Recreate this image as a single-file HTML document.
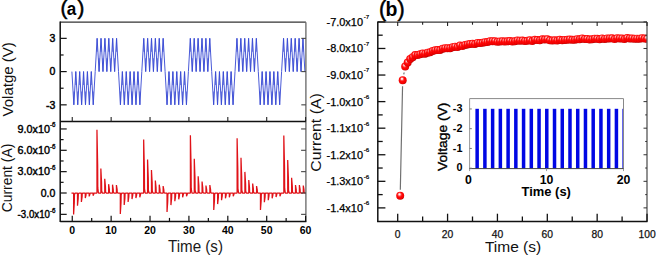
<!DOCTYPE html>
<html><head><meta charset="utf-8"><style>
html,body{margin:0;padding:0;background:#fff;width:656px;height:256px;overflow:hidden}
svg{display:block;font-family:"Liberation Sans",sans-serif}
</style></head><body>
<svg width="656" height="256" viewBox="0 0 656 256" font-family="Liberation Sans, sans-serif"><path d="M71.9,71.6 L73.84,104.84 L75.78,71.6 L77.73,104.84 L79.67,71.6 L81.61,104.84 L83.55,71.6 L85.49,104.84 L87.43,71.6 L89.38,104.84 L91.32,71.6 L93.26,104.84 L95.2,71.6 L97.14,38.36 L99.08,71.6 L101.03,38.36 L102.97,71.6 L104.91,38.36 L106.85,71.6 L108.79,38.36 L110.73,71.6 L112.67,38.36 L114.62,71.6 L116.56,38.36 L118.5,71.6 L120.44,104.84 L122.38,71.6 L124.33,104.84 L126.27,71.6 L128.21,104.84 L130.15,71.6 L132.09,104.84 L134.03,71.6 L135.97,104.84 L137.92,71.6 L139.86,104.84 L141.8,71.6 L143.74,38.36 L145.68,71.6 L147.62,38.36 L149.57,71.6 L151.51,38.36 L153.45,71.6 L155.39,38.36 L157.33,71.6 L159.28,38.36 L161.22,71.6 L163.16,38.36 L165.1,71.6 L167.04,104.84 L168.98,71.6 L170.93,104.84 L172.87,71.6 L174.81,104.84 L176.75,71.6 L178.69,104.84 L180.63,71.6 L182.58,104.84 L184.52,71.6 L186.46,104.84 L188.4,71.6 L190.34,38.36 L192.28,71.6 L194.22,38.36 L196.17,71.6 L198.11,38.36 L200.05,71.6 L201.99,38.36 L203.93,71.6 L205.88,38.36 L207.82,71.6 L209.76,38.36 L211.7,71.6 L213.64,104.84 L215.58,71.6 L217.53,104.84 L219.47,71.6 L221.41,104.84 L223.35,71.6 L225.29,104.84 L227.23,71.6 L229.18,104.84 L231.12,71.6 L233.06,104.84 L235,71.6 L236.94,38.36 L238.88,71.6 L240.82,38.36 L242.77,71.6 L244.71,38.36 L246.65,71.6 L248.59,38.36 L250.53,71.6 L252.47,38.36 L254.42,71.6 L256.36,38.36 L258.3,71.6 L260.24,104.84 L262.18,71.6 L264.12,104.84 L266.07,71.6 L268.01,104.84 L269.95,71.6 L271.89,104.84 L273.83,71.6 L275.78,104.84 L277.72,71.6 L279.66,104.84 L281.6,71.6 L283.54,38.36 L285.48,71.6 L287.43,38.36 L289.37,71.6 L291.31,38.36 L293.25,71.6 L295.19,38.36 L297.13,71.6 L299.08,38.36 L301.02,71.6 L302.96,38.36 L304.9,71.6" fill="none" stroke="#4a5ad8" stroke-width="1.0" stroke-linejoin="round" clip-path="url(#clipA1)"/>
<path d="M73.84,104.84 L73.84,91.54 M77.73,104.84 L77.73,91.54 M75.78,71.6 L75.78,84.9 M81.61,104.84 L81.61,91.54 M79.67,71.6 L79.67,84.9 M85.49,104.84 L85.49,91.54 M83.55,71.6 L83.55,84.9 M89.38,104.84 L89.38,91.54 M87.43,71.6 L87.43,84.9 M93.26,104.84 L93.26,91.54 M91.32,71.6 L91.32,84.9 M97.14,38.36 L97.14,51.66 M101.03,38.36 L101.03,51.66 M99.08,71.6 L99.08,58.3 M104.91,38.36 L104.91,51.66 M102.97,71.6 L102.97,58.3 M108.79,38.36 L108.79,51.66 M106.85,71.6 L106.85,58.3 M112.67,38.36 L112.67,51.66 M110.73,71.6 L110.73,58.3 M116.56,38.36 L116.56,51.66 M114.62,71.6 L114.62,58.3 M120.44,104.84 L120.44,91.54 M124.33,104.84 L124.33,91.54 M122.38,71.6 L122.38,84.9 M128.21,104.84 L128.21,91.54 M126.27,71.6 L126.27,84.9 M132.09,104.84 L132.09,91.54 M130.15,71.6 L130.15,84.9 M135.97,104.84 L135.97,91.54 M134.03,71.6 L134.03,84.9 M139.86,104.84 L139.86,91.54 M137.92,71.6 L137.92,84.9 M143.74,38.36 L143.74,51.66 M147.62,38.36 L147.62,51.66 M145.68,71.6 L145.68,58.3 M151.51,38.36 L151.51,51.66 M149.57,71.6 L149.57,58.3 M155.39,38.36 L155.39,51.66 M153.45,71.6 L153.45,58.3 M159.28,38.36 L159.28,51.66 M157.33,71.6 L157.33,58.3 M163.16,38.36 L163.16,51.66 M161.22,71.6 L161.22,58.3 M167.04,104.84 L167.04,91.54 M170.93,104.84 L170.93,91.54 M168.98,71.6 L168.98,84.9 M174.81,104.84 L174.81,91.54 M172.87,71.6 L172.87,84.9 M178.69,104.84 L178.69,91.54 M176.75,71.6 L176.75,84.9 M182.58,104.84 L182.58,91.54 M180.63,71.6 L180.63,84.9 M186.46,104.84 L186.46,91.54 M184.52,71.6 L184.52,84.9 M190.34,38.36 L190.34,51.66 M194.22,38.36 L194.22,51.66 M192.28,71.6 L192.28,58.3 M198.11,38.36 L198.11,51.66 M196.17,71.6 L196.17,58.3 M201.99,38.36 L201.99,51.66 M200.05,71.6 L200.05,58.3 M205.88,38.36 L205.88,51.66 M203.93,71.6 L203.93,58.3 M209.76,38.36 L209.76,51.66 M207.82,71.6 L207.82,58.3 M213.64,104.84 L213.64,91.54 M217.53,104.84 L217.53,91.54 M215.58,71.6 L215.58,84.9 M221.41,104.84 L221.41,91.54 M219.47,71.6 L219.47,84.9 M225.29,104.84 L225.29,91.54 M223.35,71.6 L223.35,84.9 M229.18,104.84 L229.18,91.54 M227.23,71.6 L227.23,84.9 M233.06,104.84 L233.06,91.54 M231.12,71.6 L231.12,84.9 M236.94,38.36 L236.94,51.66 M240.82,38.36 L240.82,51.66 M238.88,71.6 L238.88,58.3 M244.71,38.36 L244.71,51.66 M242.77,71.6 L242.77,58.3 M248.59,38.36 L248.59,51.66 M246.65,71.6 L246.65,58.3 M252.47,38.36 L252.47,51.66 M250.53,71.6 L250.53,58.3 M256.36,38.36 L256.36,51.66 M254.42,71.6 L254.42,58.3 M260.24,104.84 L260.24,91.54 M264.12,104.84 L264.12,91.54 M262.18,71.6 L262.18,84.9 M268.01,104.84 L268.01,91.54 M266.07,71.6 L266.07,84.9 M271.89,104.84 L271.89,91.54 M269.95,71.6 L269.95,84.9 M275.78,104.84 L275.78,91.54 M273.83,71.6 L273.83,84.9 M279.66,104.84 L279.66,91.54 M277.72,71.6 L277.72,84.9 M283.54,38.36 L283.54,51.66 M287.43,38.36 L287.43,51.66 M285.48,71.6 L285.48,58.3 M291.31,38.36 L291.31,51.66 M289.37,71.6 L289.37,58.3 M295.19,38.36 L295.19,51.66 M293.25,71.6 L293.25,58.3 M299.08,38.36 L299.08,51.66 M297.13,71.6 L297.13,58.3 M302.96,38.36 L302.96,51.66 M301.02,71.6 L301.02,58.3 " fill="none" stroke="#3244d2" stroke-width="1.1" stroke-opacity="0.6" clip-path="url(#clipA1)"/>
<path d="M71.5,193 L73.6,193 L73.6,214.4 L74.3,202.63 L74.45,194.71 L75.1,193 L77.49,193 L77.49,205.8 L78.19,198.76 L78.34,194.02 L78.99,193 L81.39,193 L81.39,201.9 L82.09,197 L82.24,193.71 L82.89,193 L85.28,193 L85.28,198 L85.98,195.25 L86.13,193.4 L86.78,193 L89.17,193 L89.17,196.4 L89.87,194.53 L90.02,193.27 L90.67,193 L93.06,193 L93.06,195.6 L93.77,194.17 L93.91,193.21 L94.56,193 L96.96,193 L96.96,129.7 L97.66,164.51 L97.81,187.94 L98.46,193 L100.85,193 L100.85,168.6 L101.55,182.02 L101.7,191.05 L102.35,193 L104.74,193 L104.74,178.75 L105.44,186.59 L105.59,191.86 L106.24,193 L108.64,193 L108.64,184.2 L109.34,189.04 L109.49,192.3 L110.14,193 L112.53,193 L112.53,184.7 L113.23,189.26 L113.38,192.34 L114.03,193 L116.42,193 L116.42,185 L117.12,189.4 L117.27,192.36 L117.92,193 L120.32,193 L120.32,214 L121.02,202.45 L121.17,194.68 L121.82,193 L124.21,193 L124.21,205 L124.91,198.4 L125.06,193.96 L125.71,193 L128.1,193 L128.1,201.9 L128.8,197 L128.95,193.71 L129.6,193 L132,193 L132,199 L132.69,195.7 L132.84,193.48 L133.5,193 L135.89,193 L135.89,198 L136.59,195.25 L136.74,193.4 L137.39,193 L139.78,193 L139.78,197.2 L140.48,194.89 L140.63,193.34 L141.28,193 L143.67,193 L143.67,139.6 L144.37,168.97 L144.52,188.73 L145.17,193 L147.57,193 L147.57,159.5 L148.27,177.93 L148.42,190.32 L149.07,193 L151.46,193 L151.46,170 L152.16,182.65 L152.31,191.16 L152.96,193 L155.35,193 L155.35,180.6 L156.05,187.42 L156.2,192.01 L156.85,193 L159.25,193 L159.25,184.7 L159.95,189.26 L160.1,192.34 L160.75,193 L163.14,193 L163.14,186 L163.84,189.85 L163.99,192.44 L164.64,193 L167.03,193 L167.03,212 L167.73,201.55 L167.88,194.52 L168.53,193 L170.92,193 L170.92,205.1 L171.62,198.44 L171.77,193.97 L172.42,193 L174.82,193 L174.82,201.2 L175.52,196.69 L175.67,193.66 L176.32,193 L178.71,193 L178.71,199.3 L179.41,195.84 L179.56,193.5 L180.21,193 L182.6,193 L182.6,197.3 L183.3,194.94 L183.45,193.34 L184.1,193 L186.5,193 L186.5,196.3 L187.2,194.49 L187.35,193.26 L188,193 L190.39,193 L190.39,135.3 L191.09,167.03 L191.24,188.38 L191.89,193 L194.28,193 L194.28,158.7 L194.98,177.56 L195.13,190.26 L195.78,193 L198.18,193 L198.18,176.3 L198.88,185.49 L199.03,191.66 L199.68,193 L202.07,193 L202.07,181.5 L202.77,187.82 L202.92,192.08 L203.57,193 L205.96,193 L205.96,185.6 L206.66,189.67 L206.81,192.41 L207.46,193 L209.85,193 L209.85,185 L210.55,189.4 L210.7,192.36 L211.35,193 L213.75,193 L213.75,210 L214.45,200.65 L214.6,194.36 L215.25,193 L217.64,193 L217.64,204.1 L218.34,198 L218.49,193.89 L219.14,193 L221.53,193 L221.53,200.2 L222.23,196.24 L222.38,193.58 L223.03,193 L225.43,193 L225.43,198.3 L226.13,195.38 L226.28,193.42 L226.93,193 L229.32,193 L229.32,197.3 L230.02,194.94 L230.17,193.34 L230.82,193 L233.21,193 L233.21,196.3 L233.91,194.49 L234.06,193.26 L234.71,193 L237.11,193 L237.11,138.2 L237.81,168.34 L237.96,188.62 L238.61,193 L241,193 L241,157.8 L241.7,177.16 L241.85,190.18 L242.5,193 L244.89,193 L244.89,171.9 L245.59,183.5 L245.74,191.31 L246.39,193 L248.78,193 L248.78,180.1 L249.48,187.19 L249.63,191.97 L250.28,193 L252.68,193 L252.68,183.6 L253.38,188.77 L253.53,192.25 L254.18,193 L256.57,193 L256.57,186 L257.27,189.85 L257.42,192.44 L258.07,193 L260.46,193 L260.46,210 L261.16,200.65 L261.31,194.36 L261.96,193 L264.36,193 L264.36,202.2 L265.06,197.14 L265.21,193.74 L265.86,193 L268.25,193 L268.25,200.2 L268.95,196.24 L269.1,193.58 L269.75,193 L272.14,193 L272.14,198.3 L272.84,195.38 L272.99,193.42 L273.64,193 L276.04,193 L276.04,197 L276.74,194.8 L276.89,193.32 L277.54,193 L279.93,193 L279.93,196.3 L280.63,194.49 L280.78,193.26 L281.43,193 L283.82,193 L283.82,135.6 L284.52,167.17 L284.67,188.41 L285.32,193 L287.71,193 L287.71,160 L288.41,178.15 L288.56,190.36 L289.21,193 L291.61,193 L291.61,177.8 L292.31,186.16 L292.46,191.78 L293.11,193 L295.5,193 L295.5,185 L296.2,189.4 L296.35,192.36 L297,193 L299.39,193 L299.39,185 L300.09,189.4 L300.24,192.36 L300.89,193 L303.29,193 L303.29,185.6 L303.99,189.67 L304.14,192.41 L304.79,193 L305.9,193" fill="none" stroke="#e01218" stroke-width="1.25" stroke-linejoin="bevel"/>
<line x1="60.2" y1="22.2" x2="305.9" y2="22.2" stroke="#333" stroke-width="1.3"/>
<line x1="305.9" y1="22.2" x2="305.9" y2="221.4" stroke="#666" stroke-width="1.3"/>
<line x1="60.2" y1="121.5" x2="305.9" y2="121.5" stroke="#111" stroke-width="1.4"/>
<line x1="60.2" y1="221.4" x2="306.4" y2="221.4" stroke="#111" stroke-width="1.5"/>
<line x1="60.2" y1="21.5" x2="60.2" y2="222.1" stroke="#111" stroke-width="1.5"/>
<line x1="60.2" y1="38.36" x2="66.7" y2="38.36" stroke="#111" stroke-width="1.2"/>
<line x1="305.9" y1="38.36" x2="301.3" y2="38.36" stroke="#444" stroke-width="1.1"/>
<line x1="60.2" y1="71.6" x2="66.7" y2="71.6" stroke="#111" stroke-width="1.2"/>
<line x1="305.9" y1="71.6" x2="301.3" y2="71.6" stroke="#444" stroke-width="1.1"/>
<line x1="60.2" y1="104.84" x2="66.7" y2="104.84" stroke="#111" stroke-width="1.2"/>
<line x1="305.9" y1="104.84" x2="301.3" y2="104.84" stroke="#444" stroke-width="1.1"/>
<line x1="60.2" y1="54.98" x2="63.6" y2="54.98" stroke="#111" stroke-width="1.2"/>
<line x1="60.2" y1="88.22" x2="63.6" y2="88.22" stroke="#111" stroke-width="1.2"/>
<line x1="72.25" y1="121.5" x2="72.25" y2="117" stroke="#222" stroke-width="1.1"/>
<line x1="111.14" y1="121.5" x2="111.14" y2="117" stroke="#222" stroke-width="1.1"/>
<line x1="150.03" y1="121.5" x2="150.03" y2="117" stroke="#222" stroke-width="1.1"/>
<line x1="188.92" y1="121.5" x2="188.92" y2="117" stroke="#222" stroke-width="1.1"/>
<line x1="227.81" y1="121.5" x2="227.81" y2="117" stroke="#222" stroke-width="1.1"/>
<line x1="266.7" y1="121.5" x2="266.7" y2="117" stroke="#222" stroke-width="1.1"/>
<line x1="305.59" y1="121.5" x2="305.59" y2="117" stroke="#222" stroke-width="1.1"/>
<text x="55.4" y="42.16" font-size="10.5" text-anchor="end" fill="#000" stroke="#000" stroke-width="0.45">3</text>
<text x="55.4" y="75.4" font-size="10.5" text-anchor="end" fill="#000" stroke="#000" stroke-width="0.45">0</text>
<text x="55.4" y="108.64" font-size="10.5" text-anchor="end" fill="#000" stroke="#000" stroke-width="0.45">-3</text>
<line x1="60.2" y1="128.95" x2="66.7" y2="128.95" stroke="#111" stroke-width="1.2"/>
<line x1="305.9" y1="128.95" x2="301.1" y2="128.95" stroke="#444" stroke-width="1.1"/>
<line x1="60.2" y1="150.3" x2="66.7" y2="150.3" stroke="#111" stroke-width="1.2"/>
<line x1="305.9" y1="150.3" x2="301.1" y2="150.3" stroke="#444" stroke-width="1.1"/>
<line x1="60.2" y1="171.65" x2="66.7" y2="171.65" stroke="#111" stroke-width="1.2"/>
<line x1="305.9" y1="171.65" x2="301.1" y2="171.65" stroke="#444" stroke-width="1.1"/>
<line x1="60.2" y1="193" x2="66.7" y2="193" stroke="#111" stroke-width="1.2"/>
<line x1="305.9" y1="193" x2="301.1" y2="193" stroke="#444" stroke-width="1.1"/>
<line x1="60.2" y1="214.35" x2="66.7" y2="214.35" stroke="#111" stroke-width="1.2"/>
<line x1="305.9" y1="214.35" x2="301.1" y2="214.35" stroke="#444" stroke-width="1.1"/>
<line x1="60.2" y1="139.62" x2="63.6" y2="139.62" stroke="#111" stroke-width="1.2"/>
<line x1="60.2" y1="160.97" x2="63.6" y2="160.97" stroke="#111" stroke-width="1.2"/>
<line x1="60.2" y1="182.32" x2="63.6" y2="182.32" stroke="#111" stroke-width="1.2"/>
<line x1="60.2" y1="203.68" x2="63.6" y2="203.68" stroke="#111" stroke-width="1.2"/>
<line x1="72.25" y1="221.4" x2="72.25" y2="215.8" stroke="#111" stroke-width="1.2"/>
<line x1="91.69" y1="221.4" x2="91.69" y2="217.9" stroke="#111" stroke-width="1.2"/>
<text x="72.25" y="233.8" font-size="10.5" font-weight="bold" text-anchor="middle" fill="#000" >0</text>
<line x1="111.14" y1="221.4" x2="111.14" y2="215.8" stroke="#111" stroke-width="1.2"/>
<line x1="130.58" y1="221.4" x2="130.58" y2="217.9" stroke="#111" stroke-width="1.2"/>
<text x="111.14" y="233.8" font-size="10.5" font-weight="bold" text-anchor="middle" fill="#000" >10</text>
<line x1="150.03" y1="221.4" x2="150.03" y2="215.8" stroke="#111" stroke-width="1.2"/>
<line x1="169.47" y1="221.4" x2="169.47" y2="217.9" stroke="#111" stroke-width="1.2"/>
<text x="150.03" y="233.8" font-size="10.5" font-weight="bold" text-anchor="middle" fill="#000" >20</text>
<line x1="188.92" y1="221.4" x2="188.92" y2="215.8" stroke="#111" stroke-width="1.2"/>
<line x1="208.36" y1="221.4" x2="208.36" y2="217.9" stroke="#111" stroke-width="1.2"/>
<text x="188.92" y="233.8" font-size="10.5" font-weight="bold" text-anchor="middle" fill="#000" >30</text>
<line x1="227.81" y1="221.4" x2="227.81" y2="215.8" stroke="#111" stroke-width="1.2"/>
<line x1="247.25" y1="221.4" x2="247.25" y2="217.9" stroke="#111" stroke-width="1.2"/>
<text x="227.81" y="233.8" font-size="10.5" font-weight="bold" text-anchor="middle" fill="#000" >40</text>
<line x1="266.7" y1="221.4" x2="266.7" y2="215.8" stroke="#111" stroke-width="1.2"/>
<line x1="286.14" y1="221.4" x2="286.14" y2="217.9" stroke="#111" stroke-width="1.2"/>
<text x="266.7" y="233.8" font-size="10.5" font-weight="bold" text-anchor="middle" fill="#000" >50</text>
<line x1="305.59" y1="221.4" x2="305.59" y2="215.8" stroke="#111" stroke-width="1.2"/>
<text x="305.59" y="233.8" font-size="10.5" font-weight="bold" text-anchor="middle" fill="#000" >60</text>
<text x="50" y="132.75" font-size="10.5" text-anchor="end" fill="#000" stroke="#000" stroke-width="0.4" textLength="32.4" lengthAdjust="spacingAndGlyphs">9.0x10</text>
<text x="50" y="127.35" font-size="6.3" text-anchor="start" fill="#000" stroke="#000" stroke-width="0.3">-6</text>
<text x="50" y="154.1" font-size="10.5" text-anchor="end" fill="#000" stroke="#000" stroke-width="0.4" textLength="32.4" lengthAdjust="spacingAndGlyphs">6.0x10</text>
<text x="50" y="148.7" font-size="6.3" text-anchor="start" fill="#000" stroke="#000" stroke-width="0.3">-6</text>
<text x="50" y="175.45" font-size="10.5" text-anchor="end" fill="#000" stroke="#000" stroke-width="0.4" textLength="32.4" lengthAdjust="spacingAndGlyphs">3.0x10</text>
<text x="50" y="170.05" font-size="6.3" text-anchor="start" fill="#000" stroke="#000" stroke-width="0.3">-6</text>
<text x="50" y="218.15" font-size="10.5" text-anchor="end" fill="#000" stroke="#000" stroke-width="0.4" textLength="32.4" lengthAdjust="spacingAndGlyphs">-3.0x10</text>
<text x="50" y="212.75" font-size="6.3" text-anchor="start" fill="#000" stroke="#000" stroke-width="0.3">-6</text>
<text x="55.4" y="196.8" font-size="10.5" text-anchor="end" fill="#000" stroke="#000" stroke-width="0.4">0.0</text>
<text transform="translate(12.8,79.3) rotate(-90)" font-size="15.5" text-anchor="middle" fill="#111" textLength="74.2" lengthAdjust="spacingAndGlyphs">Volatge (V)</text>
<text transform="translate(12.3,178) rotate(-90)" font-size="14" text-anchor="middle" fill="#111" textLength="68.7" lengthAdjust="spacingAndGlyphs">Current (A)</text>
<text x="168" y="251.7" font-size="15.6" fill="#1a1a1a" textLength="55" lengthAdjust="spacingAndGlyphs">Time (s)</text>
<text x="60.6" y="14.8" font-size="20.5" fill="#000" stroke="#000" stroke-width="0.5">(</text>
<text x="66.8" y="14.5" font-size="18.3" font-weight="bold" fill="#000" textLength="9.5" lengthAdjust="spacingAndGlyphs">a</text>
<text x="77.6" y="14.8" font-size="20.5" fill="#000" stroke="#000" stroke-width="0.5">)</text>
<defs><radialGradient id="ball" cx="0.45" cy="0.4" r="0.62" fx="0.4" fy="0.3"><stop offset="0" stop-color="#ffffff"/><stop offset="0.14" stop-color="#ffe0e0"/><stop offset="0.32" stop-color="#ff5050"/><stop offset="0.5" stop-color="#ff0808"/><stop offset="0.85" stop-color="#f00000"/><stop offset="1" stop-color="#b00000"/></radialGradient><clipPath id="clipB"><rect x="377.8" y="22.0" width="269.2" height="199.4"/></clipPath><clipPath id="clipA1"><rect x="60.2" y="22.0" width="245.7" height="99.5"/></clipPath></defs>
<path d="M400.32,189.8 L402.56,86.3 M403.76,74.4 L404.11,72.5 " fill="none" stroke="#707070" stroke-width="1.2" clip-path="url(#clipB)"/>
<g fill="url(#ball)" clip-path="url(#clipB)"><circle cx="400.19" cy="195.8" r="4"/><circle cx="402.69" cy="80.3" r="4"/><circle cx="405.18" cy="66.6" r="4"/><circle cx="407.67" cy="62.49" r="4"/><circle cx="410.17" cy="59.08" r="4"/><circle cx="412.66" cy="57.18" r="4"/><circle cx="415.15" cy="55.1" r="4"/><circle cx="417.65" cy="55.07" r="4"/><circle cx="420.14" cy="54.34" r="4"/><circle cx="422.63" cy="53.53" r="4"/><circle cx="425.13" cy="53.63" r="4"/><circle cx="427.62" cy="52.63" r="4"/><circle cx="430.11" cy="52.22" r="4"/><circle cx="432.61" cy="50.96" r="4"/><circle cx="435.1" cy="50.28" r="4"/><circle cx="437.59" cy="50.12" r="4"/><circle cx="440.09" cy="50.03" r="4"/><circle cx="442.58" cy="48.65" r="4"/><circle cx="445.07" cy="48.28" r="4"/><circle cx="447.57" cy="48.28" r="4"/><circle cx="450.06" cy="48.17" r="4"/><circle cx="452.55" cy="47.24" r="4"/><circle cx="455.05" cy="46.67" r="4"/><circle cx="457.54" cy="47.07" r="4"/><circle cx="460.03" cy="45.54" r="4"/><circle cx="462.53" cy="46.09" r="4"/><circle cx="465.02" cy="44.99" r="4"/><circle cx="467.51" cy="44.4" r="4"/><circle cx="470.01" cy="43.96" r="4"/><circle cx="472.5" cy="43.78" r="4"/><circle cx="474.99" cy="43.98" r="4"/><circle cx="477.49" cy="42.89" r="4"/><circle cx="479.98" cy="43.04" r="4"/><circle cx="482.47" cy="42.78" r="4"/><circle cx="484.97" cy="42.14" r="4"/><circle cx="487.46" cy="42.02" r="4"/><circle cx="489.95" cy="41.24" r="4"/><circle cx="492.45" cy="41.17" r="4"/><circle cx="494.94" cy="41.28" r="4"/><circle cx="497.43" cy="41.8" r="4"/><circle cx="499.93" cy="41.45" r="4"/><circle cx="502.42" cy="41.27" r="4"/><circle cx="504.91" cy="41.56" r="4"/><circle cx="507.41" cy="41.36" r="4"/><circle cx="509.9" cy="41.04" r="4"/><circle cx="512.39" cy="41.46" r="4"/><circle cx="514.89" cy="41.18" r="4"/><circle cx="517.38" cy="40.46" r="4"/><circle cx="519.87" cy="40.69" r="4"/><circle cx="522.37" cy="40.61" r="4"/><circle cx="524.86" cy="41.01" r="4"/><circle cx="527.35" cy="40.81" r="4"/><circle cx="529.84" cy="40.26" r="4"/><circle cx="532.34" cy="41.04" r="4"/><circle cx="534.83" cy="39.84" r="4"/><circle cx="537.32" cy="40.03" r="4"/><circle cx="539.82" cy="40.27" r="4"/><circle cx="542.31" cy="39.37" r="4"/><circle cx="544.8" cy="39.6" r="4"/><circle cx="547.3" cy="39.28" r="4"/><circle cx="549.79" cy="40.29" r="4"/><circle cx="552.28" cy="40.6" r="4"/><circle cx="554.78" cy="40.29" r="4"/><circle cx="557.27" cy="40.56" r="4"/><circle cx="559.76" cy="39.8" r="4"/><circle cx="562.26" cy="40.18" r="4"/><circle cx="564.75" cy="39.95" r="4"/><circle cx="567.24" cy="39.8" r="4"/><circle cx="569.74" cy="39.53" r="4"/><circle cx="572.23" cy="39.86" r="4"/><circle cx="574.72" cy="39.86" r="4"/><circle cx="577.22" cy="39.16" r="4"/><circle cx="579.71" cy="39.26" r="4"/><circle cx="582.2" cy="38.4" r="4"/><circle cx="584.7" cy="39.04" r="4"/><circle cx="587.19" cy="39.01" r="4"/><circle cx="589.68" cy="39.46" r="4"/><circle cx="592.18" cy="39.28" r="4"/><circle cx="594.67" cy="38.67" r="4"/><circle cx="597.16" cy="38.83" r="4"/><circle cx="599.66" cy="39.2" r="4"/><circle cx="602.15" cy="38.39" r="4"/><circle cx="604.64" cy="38.88" r="4"/><circle cx="607.14" cy="38.49" r="4"/><circle cx="609.63" cy="38.39" r="4"/><circle cx="612.12" cy="38.29" r="4"/><circle cx="614.62" cy="39.1" r="4"/><circle cx="617.11" cy="38.3" r="4"/><circle cx="619.6" cy="38.4" r="4"/><circle cx="622.1" cy="38.51" r="4"/><circle cx="624.59" cy="39.03" r="4"/><circle cx="627.08" cy="38.02" r="4"/><circle cx="629.58" cy="38.4" r="4"/><circle cx="632.07" cy="38.45" r="4"/><circle cx="634.56" cy="38.79" r="4"/><circle cx="637.06" cy="38.65" r="4"/><circle cx="639.55" cy="38.64" r="4"/><circle cx="642.04" cy="38.18" r="4"/><circle cx="644.54" cy="38.62" r="4"/><circle cx="647.03" cy="38.83" r="4"/></g>
<rect x="469.6" y="98.6" width="153.89999999999998" height="70.0" fill="#fff"/>
<g fill="#0006e4"><rect x="475.4" y="108.8" width="3.5" height="59.8"/><rect x="483.14" y="108.8" width="3.5" height="59.8"/><rect x="490.87" y="108.8" width="3.5" height="59.8"/><rect x="498.61" y="108.8" width="3.5" height="59.8"/><rect x="506.35" y="108.8" width="3.5" height="59.8"/><rect x="514.09" y="108.8" width="3.5" height="59.8"/><rect x="521.82" y="108.8" width="3.5" height="59.8"/><rect x="529.56" y="108.8" width="3.5" height="59.8"/><rect x="537.3" y="108.8" width="3.5" height="59.8"/><rect x="545.03" y="108.8" width="3.5" height="59.8"/><rect x="552.77" y="108.8" width="3.5" height="59.8"/><rect x="560.51" y="108.8" width="3.5" height="59.8"/><rect x="568.24" y="108.8" width="3.5" height="59.8"/><rect x="575.98" y="108.8" width="3.5" height="59.8"/><rect x="583.72" y="108.8" width="3.5" height="59.8"/><rect x="591.45" y="108.8" width="3.5" height="59.8"/><rect x="599.19" y="108.8" width="3.5" height="59.8"/><rect x="606.93" y="108.8" width="3.5" height="59.8"/><rect x="614.67" y="108.8" width="3.5" height="59.8"/><rect x="622.4" y="108.8" width="1.1" height="59.8"/></g>
<line x1="469.6" y1="98.6" x2="623.5" y2="98.6" stroke="#888" stroke-width="1.0"/>
<line x1="623.5" y1="98.6" x2="623.5" y2="168.6" stroke="#888" stroke-width="1.0"/>
<line x1="469.6" y1="98.6" x2="469.6" y2="169.1" stroke="#999" stroke-width="1.0"/>
<line x1="469.1" y1="168.6" x2="624" y2="168.6" stroke="#444" stroke-width="1.0"/>
<line x1="469.6" y1="108.95" x2="471.8" y2="108.95" stroke="#777" stroke-width="1.0"/>
<text x="462.4" y="112.15" font-size="10.8" font-weight="bold" text-anchor="end" fill="#000" >-3</text>
<line x1="469.6" y1="128.7" x2="471.8" y2="128.7" stroke="#777" stroke-width="1.0"/>
<text x="462.4" y="131.9" font-size="10.8" font-weight="bold" text-anchor="end" fill="#000" >-2</text>
<line x1="469.6" y1="148.45" x2="471.8" y2="148.45" stroke="#777" stroke-width="1.0"/>
<text x="462.4" y="151.65" font-size="10.8" font-weight="bold" text-anchor="end" fill="#000" >-1</text>
<line x1="469.6" y1="168.2" x2="471.8" y2="168.2" stroke="#777" stroke-width="1.0"/>
<text x="462.4" y="171.4" font-size="10.8" font-weight="bold" text-anchor="end" fill="#000" >0</text>
<line x1="469.6" y1="168.6" x2="469.6" y2="171.1" stroke="#999" stroke-width="1.0"/>
<text x="468.4" y="183.6" font-size="12.3" font-weight="bold" text-anchor="middle" fill="#000" >0</text>
<line x1="546.55" y1="168.6" x2="546.55" y2="171.1" stroke="#999" stroke-width="1.0"/>
<text x="546.55" y="183.6" font-size="12.3" font-weight="bold" text-anchor="middle" fill="#000" >10</text>
<line x1="623.5" y1="168.6" x2="623.5" y2="171.1" stroke="#999" stroke-width="1.0"/>
<text x="623.5" y="183.6" font-size="12.3" font-weight="bold" text-anchor="middle" fill="#000" >20</text>
<text x="521.6" y="196.4" font-size="12.5" font-weight="bold" fill="#000" textLength="49.3" lengthAdjust="spacingAndGlyphs">Time (s)</text>
<text transform="translate(447.4,136.8) rotate(-90)" font-size="13.5" text-anchor="middle" fill="#000" stroke="#000" stroke-width="0.35" textLength="68.5" lengthAdjust="spacingAndGlyphs">Voltage (V)</text>
<line x1="377.8" y1="22.2" x2="647" y2="22.2" stroke="#3a3a3a" stroke-width="1.3"/>
<line x1="647" y1="22.2" x2="647" y2="221.4" stroke="#555" stroke-width="1.3"/>
<line x1="377.1" y1="221.4" x2="647.5" y2="221.4" stroke="#111" stroke-width="1.5"/>
<line x1="377.8" y1="21.5" x2="377.8" y2="222.1" stroke="#111" stroke-width="1.5"/>
<line x1="377.8" y1="21.9" x2="385.4" y2="21.9" stroke="#111" stroke-width="1.3"/>
<line x1="647" y1="21.9" x2="643.5" y2="21.9" stroke="#333" stroke-width="1.0"/>
<line x1="377.8" y1="35.19" x2="382.7" y2="35.19" stroke="#111" stroke-width="1.3"/>
<line x1="647" y1="35.19" x2="645.2" y2="35.19" stroke="#333" stroke-width="1.0"/>
<line x1="377.8" y1="48.47" x2="385.4" y2="48.47" stroke="#111" stroke-width="1.3"/>
<line x1="647" y1="48.47" x2="643.5" y2="48.47" stroke="#333" stroke-width="1.0"/>
<line x1="377.8" y1="61.76" x2="382.7" y2="61.76" stroke="#111" stroke-width="1.3"/>
<line x1="647" y1="61.76" x2="645.2" y2="61.76" stroke="#333" stroke-width="1.0"/>
<line x1="377.8" y1="75.04" x2="385.4" y2="75.04" stroke="#111" stroke-width="1.3"/>
<line x1="647" y1="75.04" x2="643.5" y2="75.04" stroke="#333" stroke-width="1.0"/>
<line x1="377.8" y1="88.32" x2="382.7" y2="88.32" stroke="#111" stroke-width="1.3"/>
<line x1="647" y1="88.32" x2="645.2" y2="88.32" stroke="#333" stroke-width="1.0"/>
<line x1="377.8" y1="101.61" x2="385.4" y2="101.61" stroke="#111" stroke-width="1.3"/>
<line x1="647" y1="101.61" x2="643.5" y2="101.61" stroke="#333" stroke-width="1.0"/>
<line x1="377.8" y1="114.9" x2="382.7" y2="114.9" stroke="#111" stroke-width="1.3"/>
<line x1="647" y1="114.9" x2="645.2" y2="114.9" stroke="#333" stroke-width="1.0"/>
<line x1="377.8" y1="128.18" x2="385.4" y2="128.18" stroke="#111" stroke-width="1.3"/>
<line x1="647" y1="128.18" x2="643.5" y2="128.18" stroke="#333" stroke-width="1.0"/>
<line x1="377.8" y1="141.47" x2="382.7" y2="141.47" stroke="#111" stroke-width="1.3"/>
<line x1="647" y1="141.47" x2="645.2" y2="141.47" stroke="#333" stroke-width="1.0"/>
<line x1="377.8" y1="154.75" x2="385.4" y2="154.75" stroke="#111" stroke-width="1.3"/>
<line x1="647" y1="154.75" x2="643.5" y2="154.75" stroke="#333" stroke-width="1.0"/>
<line x1="377.8" y1="168.03" x2="382.7" y2="168.03" stroke="#111" stroke-width="1.3"/>
<line x1="647" y1="168.03" x2="645.2" y2="168.03" stroke="#333" stroke-width="1.0"/>
<line x1="377.8" y1="181.32" x2="385.4" y2="181.32" stroke="#111" stroke-width="1.3"/>
<line x1="647" y1="181.32" x2="643.5" y2="181.32" stroke="#333" stroke-width="1.0"/>
<line x1="377.8" y1="194.61" x2="382.7" y2="194.61" stroke="#111" stroke-width="1.3"/>
<line x1="647" y1="194.61" x2="645.2" y2="194.61" stroke="#333" stroke-width="1.0"/>
<line x1="377.8" y1="207.89" x2="385.4" y2="207.89" stroke="#111" stroke-width="1.3"/>
<line x1="647" y1="207.89" x2="643.5" y2="207.89" stroke="#333" stroke-width="1.0"/>
<text x="363" y="25.9" font-size="10.2" text-anchor="end" fill="#000" stroke="#000" stroke-width="0.25" textLength="36.5" lengthAdjust="spacingAndGlyphs">-7.0x10</text>
<text x="363.8" y="19.3" font-size="6.2" text-anchor="start" fill="#000" stroke="#000" stroke-width="0.2">-7</text>
<text x="363" y="52.47" font-size="10.2" text-anchor="end" fill="#000" stroke="#000" stroke-width="0.25" textLength="36.5" lengthAdjust="spacingAndGlyphs">-8.0x10</text>
<text x="363.8" y="45.87" font-size="6.2" text-anchor="start" fill="#000" stroke="#000" stroke-width="0.2">-7</text>
<text x="363" y="79.04" font-size="10.2" text-anchor="end" fill="#000" stroke="#000" stroke-width="0.25" textLength="36.5" lengthAdjust="spacingAndGlyphs">-9.0x10</text>
<text x="363.8" y="72.44" font-size="6.2" text-anchor="start" fill="#000" stroke="#000" stroke-width="0.2">-7</text>
<text x="363" y="105.61" font-size="10.2" text-anchor="end" fill="#000" stroke="#000" stroke-width="0.25" textLength="36.5" lengthAdjust="spacingAndGlyphs">-1.0x10</text>
<text x="363.8" y="99.01" font-size="6.2" text-anchor="start" fill="#000" stroke="#000" stroke-width="0.2">-6</text>
<text x="363" y="132.18" font-size="10.2" text-anchor="end" fill="#000" stroke="#000" stroke-width="0.25" textLength="36.5" lengthAdjust="spacingAndGlyphs">-1.1x10</text>
<text x="363.8" y="125.58" font-size="6.2" text-anchor="start" fill="#000" stroke="#000" stroke-width="0.2">-6</text>
<text x="363" y="158.75" font-size="10.2" text-anchor="end" fill="#000" stroke="#000" stroke-width="0.25" textLength="36.5" lengthAdjust="spacingAndGlyphs">-1.2x10</text>
<text x="363.8" y="152.15" font-size="6.2" text-anchor="start" fill="#000" stroke="#000" stroke-width="0.2">-6</text>
<text x="363" y="185.32" font-size="10.2" text-anchor="end" fill="#000" stroke="#000" stroke-width="0.25" textLength="36.5" lengthAdjust="spacingAndGlyphs">-1.3x10</text>
<text x="363.8" y="178.72" font-size="6.2" text-anchor="start" fill="#000" stroke="#000" stroke-width="0.2">-6</text>
<text x="363" y="211.89" font-size="10.2" text-anchor="end" fill="#000" stroke="#000" stroke-width="0.25" textLength="36.5" lengthAdjust="spacingAndGlyphs">-1.4x10</text>
<text x="363.8" y="205.29" font-size="6.2" text-anchor="start" fill="#000" stroke="#000" stroke-width="0.2">-6</text>
<line x1="397.7" y1="221.4" x2="397.7" y2="213.7" stroke="#111" stroke-width="1.3"/>
<line x1="397.7" y1="22" x2="397.7" y2="25.9" stroke="#222" stroke-width="1.1"/>
<text x="397.7" y="237.8" font-size="10.3" text-anchor="middle" fill="#111" stroke="#111" stroke-width="0.25">0</text>
<line x1="422.63" y1="221.4" x2="422.63" y2="216.5" stroke="#111" stroke-width="1.3"/>
<line x1="422.63" y1="22" x2="422.63" y2="24.7" stroke="#222" stroke-width="1.1"/>
<line x1="447.57" y1="221.4" x2="447.57" y2="213.7" stroke="#111" stroke-width="1.3"/>
<line x1="447.57" y1="22" x2="447.57" y2="25.9" stroke="#222" stroke-width="1.1"/>
<text x="447.57" y="237.8" font-size="10.3" text-anchor="middle" fill="#111" stroke="#111" stroke-width="0.25">20</text>
<line x1="472.5" y1="221.4" x2="472.5" y2="216.5" stroke="#111" stroke-width="1.3"/>
<line x1="472.5" y1="22" x2="472.5" y2="24.7" stroke="#222" stroke-width="1.1"/>
<line x1="497.43" y1="221.4" x2="497.43" y2="213.7" stroke="#111" stroke-width="1.3"/>
<line x1="497.43" y1="22" x2="497.43" y2="25.9" stroke="#222" stroke-width="1.1"/>
<text x="497.43" y="237.8" font-size="10.3" text-anchor="middle" fill="#111" stroke="#111" stroke-width="0.25">40</text>
<line x1="522.37" y1="221.4" x2="522.37" y2="216.5" stroke="#111" stroke-width="1.3"/>
<line x1="522.37" y1="22" x2="522.37" y2="24.7" stroke="#222" stroke-width="1.1"/>
<line x1="547.3" y1="221.4" x2="547.3" y2="213.7" stroke="#111" stroke-width="1.3"/>
<line x1="547.3" y1="22" x2="547.3" y2="25.9" stroke="#222" stroke-width="1.1"/>
<text x="547.3" y="237.8" font-size="10.3" text-anchor="middle" fill="#111" stroke="#111" stroke-width="0.25">60</text>
<line x1="572.23" y1="221.4" x2="572.23" y2="216.5" stroke="#111" stroke-width="1.3"/>
<line x1="572.23" y1="22" x2="572.23" y2="24.7" stroke="#222" stroke-width="1.1"/>
<line x1="597.16" y1="221.4" x2="597.16" y2="213.7" stroke="#111" stroke-width="1.3"/>
<line x1="597.16" y1="22" x2="597.16" y2="25.9" stroke="#222" stroke-width="1.1"/>
<text x="597.16" y="237.8" font-size="10.3" text-anchor="middle" fill="#111" stroke="#111" stroke-width="0.25">80</text>
<line x1="622.1" y1="221.4" x2="622.1" y2="216.5" stroke="#111" stroke-width="1.3"/>
<line x1="622.1" y1="22" x2="622.1" y2="24.7" stroke="#222" stroke-width="1.1"/>
<line x1="647.03" y1="221.4" x2="647.03" y2="213.7" stroke="#111" stroke-width="1.3"/>
<line x1="647.03" y1="22" x2="647.03" y2="25.9" stroke="#222" stroke-width="1.1"/>
<text x="647.03" y="237.8" font-size="10.3" text-anchor="middle" fill="#111" stroke="#111" stroke-width="0.25">100</text>
<text transform="translate(321.2,132.4) rotate(-90)" font-size="15.5" text-anchor="middle" fill="#111" textLength="78.5" lengthAdjust="spacingAndGlyphs">Current (A)</text>
<text x="484.9" y="251.6" font-size="15.5" fill="#111" textLength="56.3" lengthAdjust="spacingAndGlyphs">Time (s)</text>
<text x="379.0" y="15.8" font-size="21.5" fill="#000" stroke="#000" stroke-width="0.5">(</text>
<text x="385.6" y="15.6" font-size="19.5" font-weight="bold" fill="#000">b</text>
<text x="397.6" y="15.8" font-size="21.5" fill="#000" stroke="#000" stroke-width="0.5">)</text></svg>
</body></html>
